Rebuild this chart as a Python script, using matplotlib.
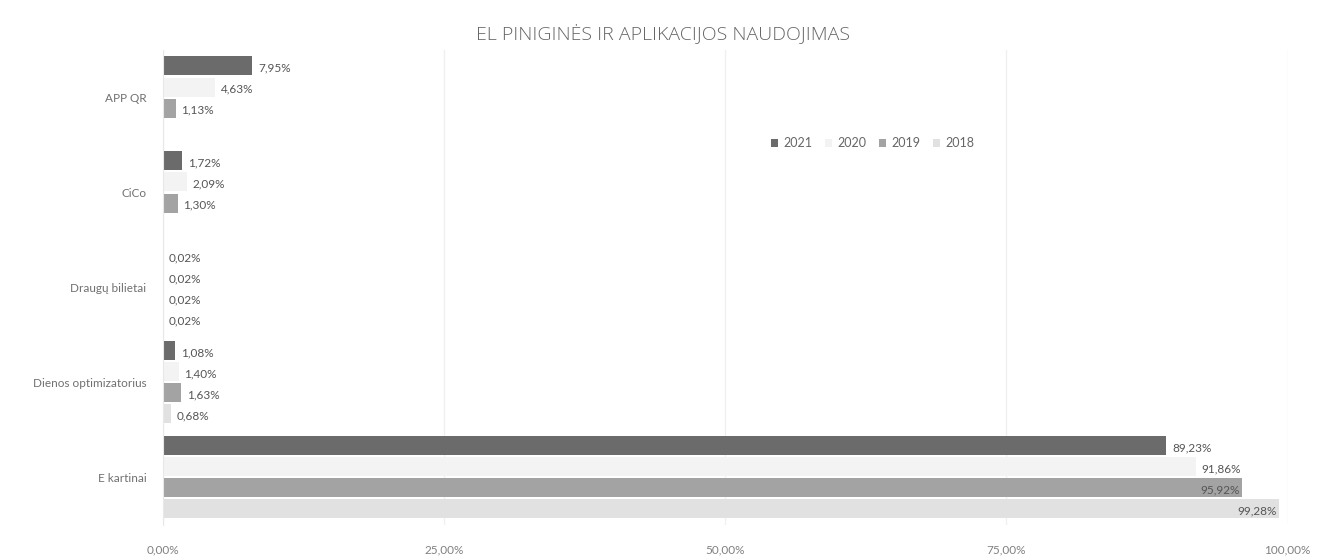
import numpy as np
import matplotlib
matplotlib.use("Agg")
import matplotlib.pyplot as plt
from matplotlib.patches import Patch

plt.rcParams['font.family'] = ['Lato', 'DejaVu Sans']

# kategorijos (iš viršaus į apačią)
categories = ["APP QR", "CiCo", "Draugų bilietai", "Dienos optimizatorius", "E kartinai"]
years = ["2021", "2020", "2019", "2018"]

# procentai pagal metus (nan = nėra duomenų)
values_2021 = [7.95, 1.72, 0.02, 1.08, 89.23]
values_2020 = [4.63, 2.09, 0.02, 1.40, 91.86]
values_2019 = [1.13, 1.30, 0.02, 1.63, 95.92]
values_2018 = [np.nan, np.nan, 0.02, 0.68, 99.28]

series = [values_2021, values_2020, values_2019, values_2018]
colors = ["#6b6b6b", "#f3f3f3", "#a3a3a3", "#e1e1e1"]

x_ticks = [0, 25, 50, 75, 100]
x_tick_labels = ["0,00%", "25,00%", "50,00%", "75,00%", "100,00%"]

fig = plt.figure(figsize=(13.26, 5.57), dpi=100)
ax = fig.add_axes([0.123, 0.058, 0.848, 0.852])

step = 0.222
height = 0.2
y_base = np.arange(len(categories))

for i, (vals, col) in enumerate(zip(series, colors)):
    ys = y_base - 1.5 * step + i * step
    v = np.nan_to_num(np.array(vals, dtype=float))
    ax.barh(ys, v, height=height, color=col, zorder=2)
    for y, val in zip(ys, vals):
        if np.isnan(val):
            continue
        txt = f"{val:.2f}".replace(".", ",") + "%"
        if val > 93:
            # netelpa už juostos galo - dedam į vidų
            ax.text(val - 0.2, y + 0.02, txt, ha="right", va="center",
                    fontsize=8.5, color="#555555", zorder=3)
        else:
            ax.text(val + 0.5, y + 0.02, txt, ha="left", va="center",
                    fontsize=8.5, color="#555555", zorder=3)

ax.set_ylim(len(categories) - 0.5, -0.5)
ax.set_xlim(0, 100)
ax.set_yticks(y_base)
ax.set_yticklabels(categories, fontsize=8.5, color="#707070")
ax.set_xticks(x_ticks)
ax.set_xticklabels(x_tick_labels, fontsize=8.5, color="#808080")
ax.tick_params(axis="both", length=0)
ax.tick_params(axis="x", pad=14)
ax.tick_params(axis="y", pad=12)

ax.grid(axis="x", color="#f0f0f0", linewidth=1, zorder=0)
for s in ["top", "right", "bottom"]:
    ax.spines[s].set_visible(False)
ax.spines["left"].set_color("#e8e8e8")

fig.text(0.5, 0.94, "EL PINIGINĖS IR APLIKACIJOS NAUDOJIMAS", ha="center",
         va="center", fontsize=14, color="#666666",
         family=['Open Sans', 'DejaVu Sans'], fontweight="light")

handles = [Patch(facecolor=c, edgecolor="none") for c in colors]
fig.legend(handles, years, loc="center", bbox_to_anchor=(0.658, 0.743), ncol=4,
           frameon=False, fontsize=9, handlelength=0.6, handleheight=0.6,
           handletextpad=0.4, columnspacing=1.0, labelcolor="#666666")

fig.savefig("out.png", dpi=100, facecolor="white")
